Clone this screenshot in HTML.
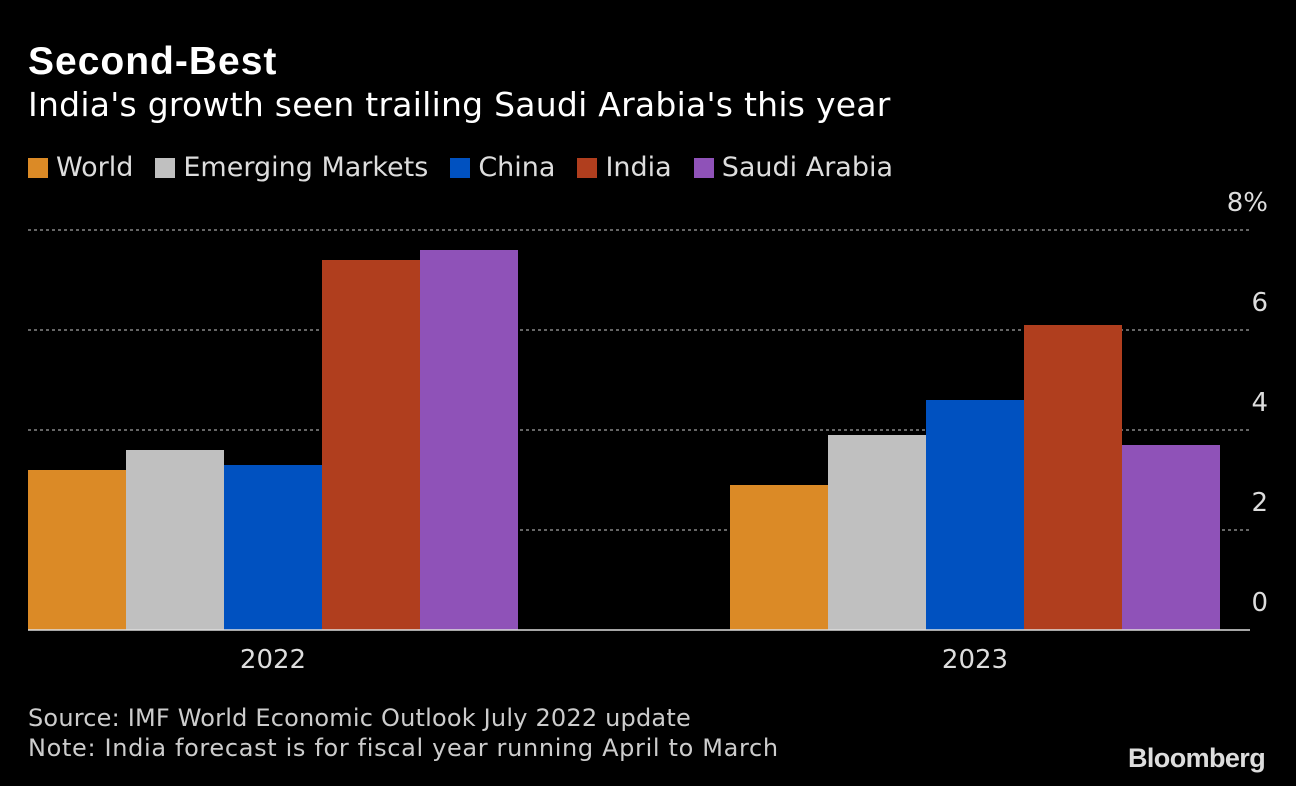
<!DOCTYPE html>
<html><head><meta charset="utf-8"><style>
body{margin:0;background:#000;width:1296px;height:786px;overflow:hidden;font-family:"Liberation Sans","DejaVu Sans",sans-serif;color:#fff;position:relative}
.t{position:absolute;white-space:nowrap}
</style></head><body>
<div class="t" style="left:28px;top:40px;font-size:39px;font-weight:bold;letter-spacing:1px">Second-Best</div>
<div class="t" style="left:28px;top:85px;font-size:33px;letter-spacing:0.25px;font-family:'DejaVu Sans',sans-serif">India's growth seen trailing Saudi Arabia's this year</div>
<div class="t" style="left:28px;top:152px;font-size:27px;font-family:'DejaVu Sans',sans-serif;color:#ddd" id="legend"></div>
<svg id="chart" width="1296" height="786" style="position:absolute;left:0;top:0"></svg>
<div class="t" style="left:28px;top:703px;font-size:24px;letter-spacing:0.2px;font-family:'DejaVu Sans',sans-serif;color:#ccc;line-height:30px">Source: IMF World Economic Outlook July 2022 update<br><span style="letter-spacing:0.66px">Note: India forecast is for fiscal year running April to March</span></div>
<div class="t" style="left:1128px;top:743px;font-size:27px;font-weight:bold;color:#ddd;letter-spacing:-0.6px">Bloomberg</div>
<script>
const categories=["2022","2023"];
const seriesNames=["World","Emerging Markets","China","India","Saudi Arabia"];
const seriesColors=["#db8a26","#c0c0c0","#0051c0","#b03e1e","#8f52b8"];
const values2022=[3.2,3.6,3.3,7.4,7.6];
const values2023=[2.9,3.9,4.6,6.1,3.7];
const yTicks=[0,2,4,6,8];
const NS="http://www.w3.org/2000/svg";
const svg=document.getElementById('chart');
const y=v=>630-v*50;
const groupStart=[28,730],bw=98;
function mk(t,a){const e=document.createElementNS(NS,t);for(const k in a)e.setAttribute(k,a[k]);svg.appendChild(e);return e;}
yTicks.forEach(v=>{
 if(v>0){const l=mk('line',{x1:28,x2:1250,y1:y(v),y2:y(v),stroke:'#888','stroke-dasharray':'3,3','stroke-width':1.5});
 
 }
 const t=mk('text',{x:1268,y:y(v)-19,'text-anchor':'end',fill:'#ddd','font-size':26,'font-family':'DejaVu Sans,sans-serif'});
 t.textContent=v===8?'8%':String(v);
 
 
});
[values2022,values2023].forEach((vals,g)=>{
 vals.forEach((v,i)=>{
  const r=mk('rect',{x:groupStart[g]+i*bw,y:y(v),width:bw,height:y(0)-y(v),fill:seriesColors[i]});
  
  
 });
 const t=mk('text',{x:groupStart[g]+2.5*bw,y:668,'text-anchor':'middle',fill:'#ddd','font-size':26,'font-family':'DejaVu Sans,sans-serif'});
 t.textContent=categories[g];
 
 
});
const ax=mk('line',{x1:28,x2:1250,y1:630,y2:630,stroke:'#ddd','stroke-width':1.5});


const lg=document.getElementById('legend');
seriesNames.forEach((n,i)=>{
 const s=document.createElement('span');
 
 
 s.style.marginRight='22px';
 s.innerHTML='<span style="display:inline-block;width:20px;height:20px;background:'+seriesColors[i]+';margin-right:8px;vertical-align:-2px"></span>'+n;
 lg.appendChild(s);
});
</script>
</body></html>
